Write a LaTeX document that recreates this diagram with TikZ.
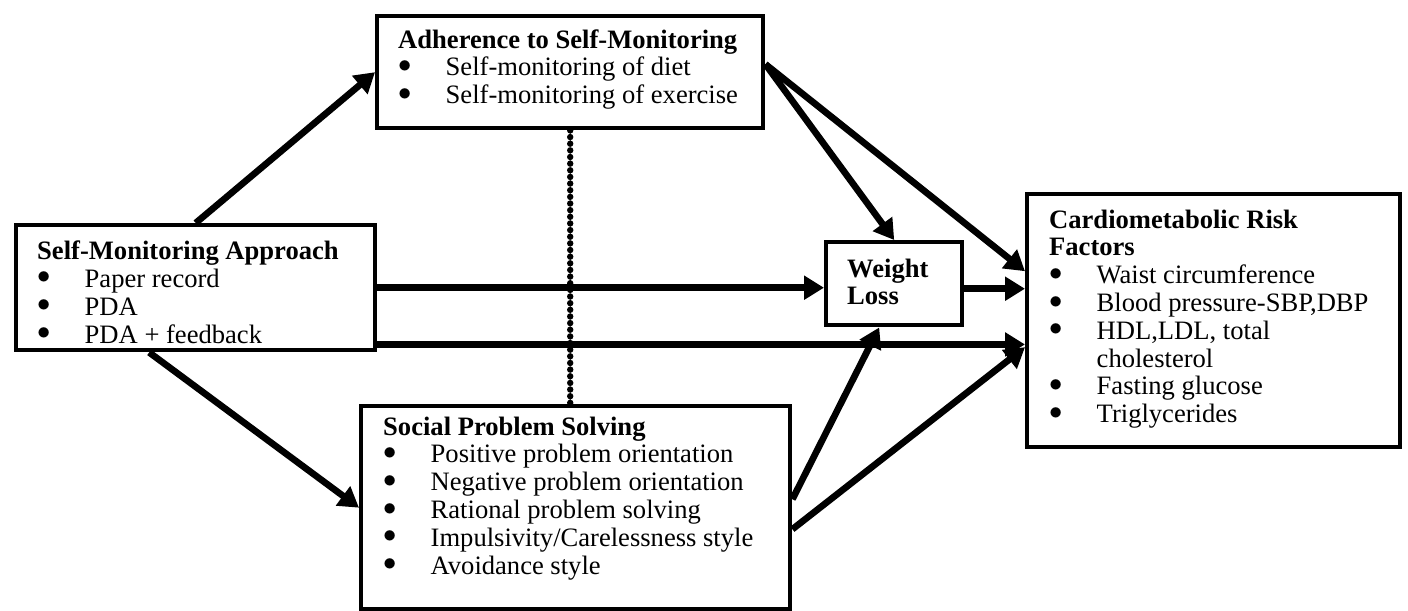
\documentclass[tikz,border=0pt]{standalone}
\usepackage{fontspec}
\setmainfont{Liberation Serif}
\usetikzlibrary{arrows.meta,calc}
\newdimen\pxu \pxu=0.4515pt
\newcommand{\itm}[1]{\par\hangindent=47.5\pxu\hangafter=1\noindent\makebox[47.5\pxu][l]{\raisebox{1.6pt}{$\bullet$}}#1}
\newcommand{\blktext}[3]{\parbox[c][#2\pxu][t]{#1\pxu}{\raggedright\strut #3\par}}

\begin{document}
\begin{tikzpicture}[x=0.4515pt, y=-0.4515pt,
  blk/.style={draw, line width=2pt, anchor=north west, inner xsep=9.48pt, font=\fontsize{12}{12.55}\selectfont},
  arr/.style={line width=3pt, -{Triangle[length=9pt, width=10.4pt]}},
  lnk/.style={line width=2.9pt, line cap=round, dash pattern=on 0pt off 3pt}]
\useasboundingbox (0,0) rectangle (1408,611);

\node[blk, inner ysep=6.77pt] (sma) at (14,223) {\blktext{317}{95}{\textbf{Self-Monitoring Approach}\itm{Paper record}\itm{PDA}\itm{PDA + feedback}}};
\node[blk, inner ysep=5.64pt] (adh) at (375,14) {\blktext{344}{87}{\textbf{Adherence to Self-Monitoring}\itm{Self-monitoring of diet}\itm{Self-monitoring of exercise}}};
\node[blk, inner ysep=7pt] (wl) at (824,240) {\blktext{94}{52}{\textbf{Weight\newline Loss}}};
\node[blk, inner xsep=9.93pt, inner ysep=6.55pt] (crf) at (1025,192) {\blktext{329}{224}{\textbf{Cardiometabolic Risk\newline Factors}\itm{Waist circumference}\itm{Blood pressure-SBP,DBP}\itm{HDL,LDL, total\newline cholesterol}\itm{Fasting glucose}\itm{Triglycerides}}};
\node[blk, inner xsep=9.93pt, inner ysep=4.29pt] (sps) at (359,404) {\blktext{385}{184}{\textbf{Social Problem Solving}\itm{Positive problem orientation}\itm{Negative problem orientation}\itm{Rational problem solving}\itm{Impulsivity/Carelessness style}\itm{Avoidance style}}};

% free ends
\coordinate (smaR) at ([yshift=3.61pt]sma.south east);
\coordinate (adhR) at ([yshift=3.61pt]adh.east);
\coordinate (wlR) at ([yshift=-2.26pt]wl.east);

\draw[lnk] (adh.south) -- (adh.south |- sps.north);
\draw[arr] (sma.north) -- (adh.west);
\draw[arr] (sma.east) -- (sma.east -| wl.west);
\draw[arr] (smaR) -- (smaR -| crf.west);
\draw[arr] ([xshift=-21pt]sma.south) -- (sps.west);
\draw[arr] (adhR) -- (wl.north);
\draw[arr] (adhR) -- ([yshift=22.35pt]crf.west);
\draw[arr] (wlR) -- (wlR -| crf.west);
\draw[arr] ([yshift=3.84pt]sps.east) -- ([xshift=-6.77pt]wl.south);
\draw[arr] ([yshift=-9.71pt]sps.east) -- ([yshift=-11.96pt]crf.west);
\end{tikzpicture}
\end{document}
